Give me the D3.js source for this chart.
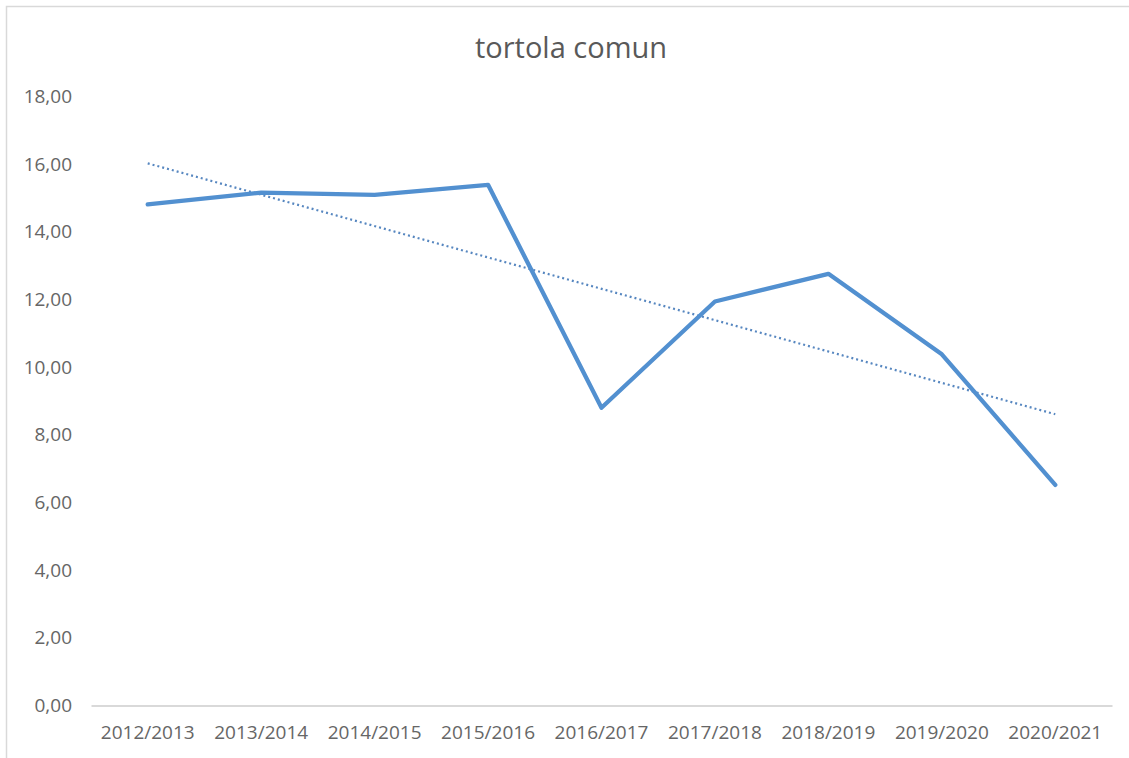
<!DOCTYPE html>
<html>
<head>
<meta charset="utf-8">
<script src="https://cdn.jsdelivr.net/npm/d3@7"></script>
<style>
  html, body { margin: 0; padding: 0; background: #fff; }
  svg { display: block; }
</style>
</head>
<body>
<svg id="chart" width="1129" height="758"></svg>
<script>
const title = "tortola comun";
const categories = ["2012/2013","2013/2014","2014/2015","2015/2016","2016/2017","2017/2018","2018/2019","2019/2020","2020/2021"];
const values = [14.81, 15.16, 15.09, 15.39, 8.80, 11.94, 12.76, 10.38, 6.52];
const yTicks = [0, 2, 4, 6, 8, 10, 12, 14, 16, 18];

const svg = d3.select("#chart");
const W = 1129, H = 758;
const margin = { left: 91, right: 17, top: 96.5, bottom: 52.5 };
const font = "'Open Sans', 'Liberation Sans', sans-serif";

svg.append("rect").attr("width", W).attr("height", H).attr("fill", "#fff");
// chart frame (cropped at right/bottom)
svg.append("rect")
  .attr("x", 6.5).attr("y", 6.5).attr("width", 1300).attr("height", 900)
  .attr("fill", "none").attr("stroke", "#d9d9d9").attr("stroke-width", 1.5);

const x = d3.scaleBand().domain(categories).range([margin.left, W - margin.right]);
const y = d3.scaleLinear().domain([0, 18]).range([H - margin.bottom, margin.top]);

// Title
svg.append("text")
  .attr("x", 571).attr("y", 58)
  .attr("text-anchor", "middle")
  .attr("font-family", font).attr("font-size", 29)
  .attr("fill", "#595959")
  .text(title);

// Y axis
const yAxis = d3.axisLeft(y).tickValues(yTicks)
  .tickFormat(d => d3.format(".2f")(d).replace(".", ","))
  .tickSize(0).tickPadding(19);
const gy = svg.append("g").attr("transform", `translate(${margin.left},0)`).call(yAxis);
gy.select(".domain").remove();
gy.selectAll("text").attr("font-family", font).attr("font-size", 19).attr("fill", "#666");

// X axis
const xAxis = d3.axisBottom(x).tickSize(0).tickPadding(20);
const gx = svg.append("g").attr("transform", `translate(0,${y(0)})`).call(xAxis);
gx.select(".domain").attr("stroke", "#d9d9d9").attr("stroke-width", 2);
gx.selectAll("text").attr("font-family", font).attr("font-size", 19).attr("fill", "#666");

const cx = d => x(d) + x.bandwidth() / 2;

// Linear trend (least squares on the series)
const n = values.length;
const xs = d3.range(n);
const mx = d3.mean(xs), my = d3.mean(values);
const slope = d3.sum(xs, i => (i - mx) * (values[i] - my)) / d3.sum(xs, i => (i - mx) ** 2);
const icpt = my - slope * mx;
const trend = [0, n - 1].map(i => ({ c: categories[i], v: icpt + slope * i }));

svg.append("path")
  .datum(trend)
  .attr("fill", "none")
  .attr("stroke", "#5787c0")
  .attr("stroke-width", 2.2)
  .attr("stroke-dasharray", "2,3")
  .attr("d", d3.line().x(d => cx(d.c)).y(d => y(d.v)));

// Series line
svg.append("path")
  .datum(values.map((v, i) => ({ c: categories[i], v })))
  .attr("fill", "none")
  .attr("stroke", "#5290d0")
  .attr("stroke-width", 4.3)
  .attr("stroke-linejoin", "round")
  .attr("stroke-linecap", "round")
  .attr("d", d3.line().x(d => cx(d.c)).y(d => y(d.v)));
</script>
</body>
</html>
